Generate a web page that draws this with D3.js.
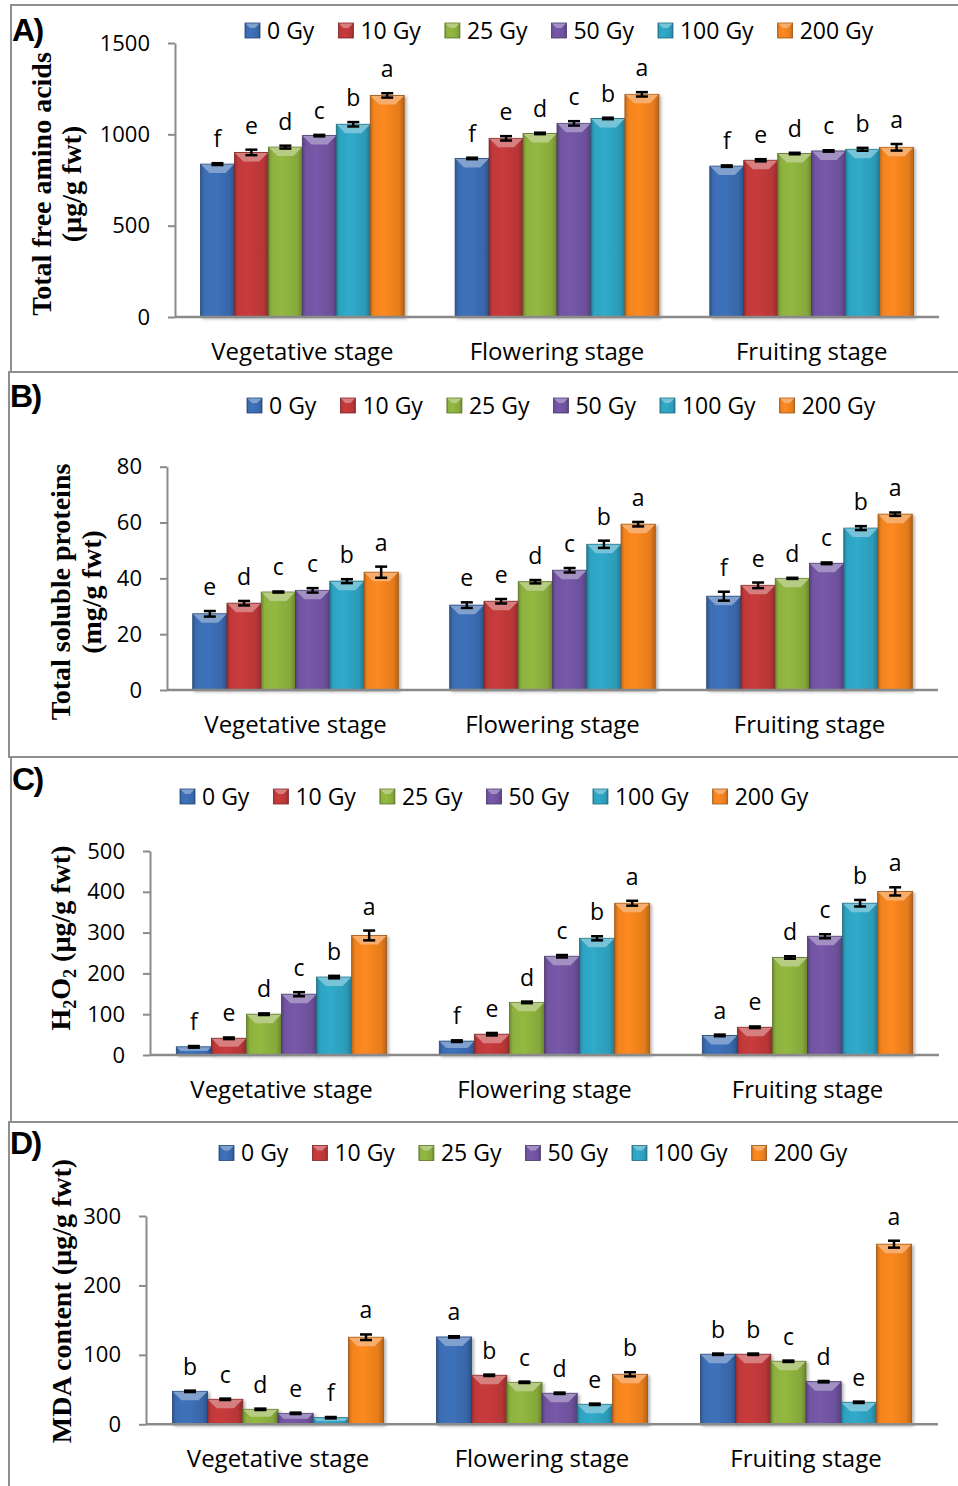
<!DOCTYPE html>
<html><head><meta charset="utf-8">
<script src="https://cdn.jsdelivr.net/npm/d3@7"></script>
<style>body{margin:0;background:#fff}svg{display:block}</style>
</head><body>
<svg id="chart" width="958" height="1486"></svg>
<script>
// ---------- data ----------
const stages = ["Vegetative stage", "Flowering stage", "Fruiting stage"];
const doses = ["0 Gy", "10 Gy", "25 Gy", "50 Gy", "100 Gy", "200 Gy"];
const doseColors = ["#3b6db3", "#c1393a", "#8db13e", "#7254a2", "#2ea3c2", "#f2831f"];

const aminoValues = [[837, 901, 930, 993, 1055, 1213], [868, 978, 1005, 1060, 1087, 1219], [826, 858, 895, 909, 918, 929]];
const aminoErrors = [[5, 15, 8, 4, 12, 12], [4, 12, 4, 12, 4, 12], [4, 6, 4, 4, 8, 18]];
const aminoLetters = [["f","e","d","c","b","a"], ["f","e","d","c","b","a"], ["f","e","d","c","b","a"]];
const aminoTicks = [0, 500, 1000, 1500];

const proteinValues = [[27.3, 31.1, 35.1, 35.7, 39.0, 42.2], [30.4, 31.8, 38.8, 42.9, 52.2, 59.4], [33.6, 37.5, 40.0, 45.4, 58.0, 63.0]];
const proteinErrors = [[1.0, 0.8, 0.2, 0.8, 0.7, 2.0], [1.0, 0.8, 0.6, 0.8, 1.3, 0.8], [1.6, 1.0, 0.2, 0.3, 0.7, 0.6]];
const proteinLetters = [["e","d","c","c","b","a"], ["e","e","d","c","b","a"], ["f","e","d","c","b","a"]];
const proteinTicks = [0, 20, 40, 60, 80];

const h2o2Values = [[20, 41, 100, 149, 191, 293], [34, 51, 129, 242, 286, 372], [48, 68, 239, 291, 372, 401]];
const h2o2Errors = [[2, 2, 2, 5, 3, 12], [2, 3, 2, 3, 5, 6], [2, 2, 3, 5, 8, 10]];
const h2o2Letters = [["f","e","d","c","b","a"], ["f","e","d","c","b","a"], ["a","e","d","c","b","a"]];
const h2o2Ticks = [0, 100, 200, 300, 400, 500];

const mdaValues = [[47.5, 36, 21.6, 15.8, 9.5, 125.4], [125.8, 70.6, 60.5, 44.7, 28.8, 72], [100.9, 100.9, 90.8, 61.4, 31.7, 259.4]];
const mdaErrors = [[1, 1, 1, 1, 1, 4], [1, 1, 1, 1, 1, 3], [1, 1, 1, 1, 1, 5]];
const mdaLetters = [["b","c","d","e","f","a"], ["a","b","c","d","e","b"], ["b","b","c","d","e","a"]];
const mdaTicks = [0, 100, 200, 300];

// ---------- layout ----------
const panels = [
  {tag: "A)", values: aminoValues, errors: aminoErrors, letters: aminoLetters, ticks: aminoTicks,
   title: [[["Total free amino acids", 0]], [["(µg/g fwt)", 0]]], titleX: [51, 81], titleY: 184,
   box: [11, 5, 980, 367], tagPos: [12, 41], plot: {x0: 175, x1: 939, y0: 317, y1: 43}, legend: {x: 245, y: 30.5}},
  {tag: "B)", values: proteinValues, errors: proteinErrors, letters: proteinLetters, ticks: proteinTicks,
   title: [[["Total soluble proteins", 0]], [["(mg/g fwt)", 0]]], titleX: [70, 101], titleY: 592,
   box: [9, 372, 980, 385], tagPos: [10, 407], plot: {x0: 167, x1: 938, y0: 690, y1: 466.7}, legend: {x: 247, y: 405.5}},
  {tag: "C)", values: h2o2Values, errors: h2o2Errors, letters: h2o2Letters, ticks: h2o2Ticks,
   title: [[["H", 0], ["2", 1], ["O", 0], ["2", 1], [" (µg/g fwt)", 0]]], titleX: [70], titleY: 938,
   box: [11, 757, 980, 365], tagPos: [12, 790], plot: {x0: 150, x1: 939, y0: 1055, y1: 851}, legend: {x: 180, y: 796.5}},
  {tag: "D)", values: mdaValues, errors: mdaErrors, letters: mdaLetters, ticks: mdaTicks,
   title: [[["MDA content (µg/g fwt)", 0]]], titleX: [71], titleY: 1301,
   box: [9, 1122, 980, 380], tagPos: [10, 1154], plot: {x0: 146, x1: 938, y0: 1424.3, y1: 1216}, legend: {x: 219, y: 1153}}
];

const svg = d3.select("#chart");
const defs = svg.append("defs");
const SANS = "'Open Sans', sans-serif";
const SERIF = "'Liberation Serif', 'Times New Roman', serif";

doseColors.forEach((c, i) => {
  const base = d3.color(c);
  const g = defs.append("linearGradient").attr("id", "grad" + i).attr("x1", 0).attr("x2", 1).attr("y1", 0).attr("y2", 0);
  [[0, base.darker(0.7)], [0.1, base], [0.4, base.brighter(0.12)], [0.85, base.darker(0.15)], [1, base.darker(0.8)]]
    .forEach(([o, col]) => g.append("stop").attr("offset", o).attr("stop-color", col.formatHex()));
});
const shadow = defs.append("filter").attr("id", "shadow").attr("x", "-20%").attr("y", "-20%").attr("width", "150%").attr("height", "150%");
shadow.append("feDropShadow").attr("dx", 2).attr("dy", 1.5).attr("stdDeviation", 1.5).attr("flood-color", "#000").attr("flood-opacity", 0.3);

function bevelBar(g, x, y, w, h, i, b) {
  const base = d3.color(doseColors[i]);
  const light = d3.interpolateRgb(base, "#ffffff")(0.35);
  const bb = Math.min(b, h / 2, w / 2);
  g.append("rect").attr("x", x).attr("y", y).attr("width", w).attr("height", h)
    .attr("fill", `url(#grad${i})`).attr("stroke", base.darker(1.2).formatHex()).attr("stroke-width", 0.8);
  g.append("path")
    .attr("d", `M${x + 0.5},${y + 0.5}L${x + w - 0.5},${y + 0.5}L${x + w - bb},${y + bb}L${x + bb},${y + bb}Z`)
    .attr("fill", light);
}

panels.forEach(p => {
  const root = svg.append("g");
  const [bx, by, bw, bh] = p.box;
  root.append("rect").attr("x", bx).attr("y", by).attr("width", bw).attr("height", bh)
    .attr("fill", "none").attr("stroke", "#8f8f8f").attr("stroke-width", 2);

  root.append("text").attr("x", p.tagPos[0]).attr("y", p.tagPos[1]).text(p.tag)
    .attr("font-family", "'Liberation Sans', Arial, sans-serif").attr("font-weight", "bold")
    .attr("font-size", 32).attr("letter-spacing", -1.5);

  const {x0, x1, y0, y1} = p.plot;
  const maxTick = p.ticks[p.ticks.length - 1];
  const y = d3.scaleLinear().domain([0, maxTick]).range([y0, y1]);
  const xg = d3.scaleBand().domain(stages).range([x0, x1]).paddingInner(0.2).paddingOuter(0.1);
  const xs = d3.scaleBand().domain(doses).range([0, xg.bandwidth()]).padding(0);

  // y axis
  const ya = root.append("g").attr("transform", `translate(${x0},0)`)
    .call(d3.axisLeft(y).tickValues(p.ticks).tickFormat(d3.format("d")).tickSize(7).tickSizeOuter(0).tickPadding(18));
  ya.selectAll("path,line").attr("stroke", "#8a8a8a").attr("stroke-width", 2);
  ya.selectAll("text").attr("font-family", SANS).attr("font-size", 22).attr("fill", "#000");

  // bars
  const barsG = root.append("g");
  stages.forEach((s, si) => {
    doses.forEach((d, di) => {
      const v = p.values[si][di];
      const e = p.errors[si][di];
      const bx0 = xg(s) + xs(d);
      const w = xs.bandwidth();
      const top = y(v);
      const gb = barsG.append("g").attr("filter", "url(#shadow)");
      bevelBar(gb, bx0, top, w, y(0) - top, di, 9);
      const cx = bx0 + w / 2;
      const eg = barsG.append("g").attr("stroke", "#000").attr("stroke-width", 2.5);
      eg.append("line").attr("x1", cx).attr("x2", cx).attr("y1", y(v - e)).attr("y2", y(v + e));
      eg.append("line").attr("x1", cx - 6).attr("x2", cx + 6).attr("y1", y(v + e)).attr("y2", y(v + e));
      eg.append("line").attr("x1", cx - 6).attr("x2", cx + 6).attr("y1", y(v - e)).attr("y2", y(v - e));
      barsG.append("text").attr("x", cx).attr("y", y(v + e) - 16).attr("text-anchor", "middle")
        .attr("font-family", SANS).attr("font-size", 23).attr("fill", "#000").text(p.letters[si][di]);
    });
  });

  // x axis
  const xa = root.append("g").attr("transform", `translate(0,${y0})`)
    .call(d3.axisBottom(xg).tickSize(0).tickSizeOuter(0));
  xa.select(".domain").attr("stroke", "#8a8a8a").attr("stroke-width", 2.5)
    .attr("d", `M${x0},0H${x1}`);
  xa.selectAll("text").attr("y", 43).attr("dy", 0).attr("font-family", SANS).attr("font-size", 24).attr("fill", "#000");

  // y title
  p.title.forEach((line, li) => {
    const t = root.append("text")
      .attr("transform", `translate(${p.titleX[li]},${p.titleY}) rotate(-90)`)
      .attr("text-anchor", "middle").attr("font-family", SERIF).attr("font-weight", "bold")
      .attr("font-size", 28).attr("fill", "#000");
    let prevSub = 0;
    line.forEach(([txt, sub]) => {
      const ts = t.append("tspan").text(txt);
      if (sub) ts.attr("font-size", 18);
      const shift = (sub ? 6 : 0) - (prevSub ? 6 : 0);
      if (shift) ts.attr("dy", shift);
      prevSub = sub;
    });
  });

  // legend
  let lx = p.legend.x;
  doses.forEach((d, i) => {
    const lg = root.append("g");
    bevelBar(lg, lx, p.legend.y - 7.5, 15, 15, i, 5);
    const t = lg.append("text").attr("x", lx + 22).attr("y", p.legend.y + 8)
      .attr("font-family", SANS).attr("font-size", 23).attr("fill", "#000").text(d);
    lx += 22 + t.node().getComputedTextLength() + 24;
  });
});
</script>
</body></html>
